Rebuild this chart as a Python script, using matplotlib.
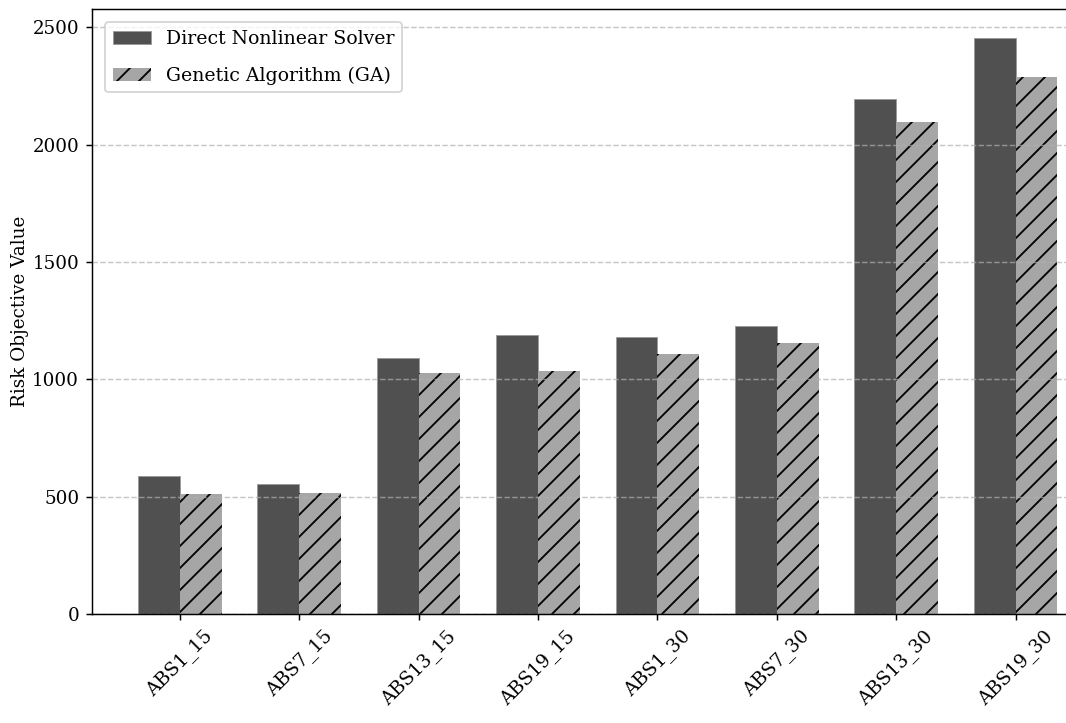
import numpy as np
import matplotlib
matplotlib.use("Agg")
import matplotlib.pyplot as plt

# Risk objective per instance for the two solution methods
instances = ["ABS1_15", "ABS7_15", "ABS13_15", "ABS19_15",
             "ABS1_30", "ABS7_30", "ABS13_30", "ABS19_30"]
direct_vals = [589, 555, 1089, 1187, 1180, 1227, 2194, 2456]
ga_vals = [511, 517, 1025, 1035, 1108, 1157, 2095, 2290]

plt.rcParams["font.family"] = "DejaVu Serif"

fig = plt.figure(figsize=(1066 / 132, 723 / 132), dpi=132)
ax = fig.add_axes([0.0863, 0.1508, 0.9487, 0.8368])

x = np.arange(len(instances))
width = 0.35

ax.bar(x - width / 2, direct_vals, width, color="#505050",
       edgecolor="#9a9a9a", linewidth=0.5, label="Direct Nonlinear Solver")
ax.bar(x + width / 2, ga_vals, width, color="#a6a6a6",
       hatch="//", label="Genetic Algorithm (GA)")

ax.set_ylabel("Risk Objective Value", fontsize=10, labelpad=2)
ax.set_xticks(x)
ax.set_xticklabels(instances, rotation=45, fontsize=10.2)
ax.tick_params(axis="y", labelsize=10)
ax.legend(loc="upper left", fontsize=10.3, labelspacing=1.0, borderaxespad=0.7)
ax.grid(axis="y", linestyle="--", alpha=0.7)

fig.savefig("out.png", dpi=132)
